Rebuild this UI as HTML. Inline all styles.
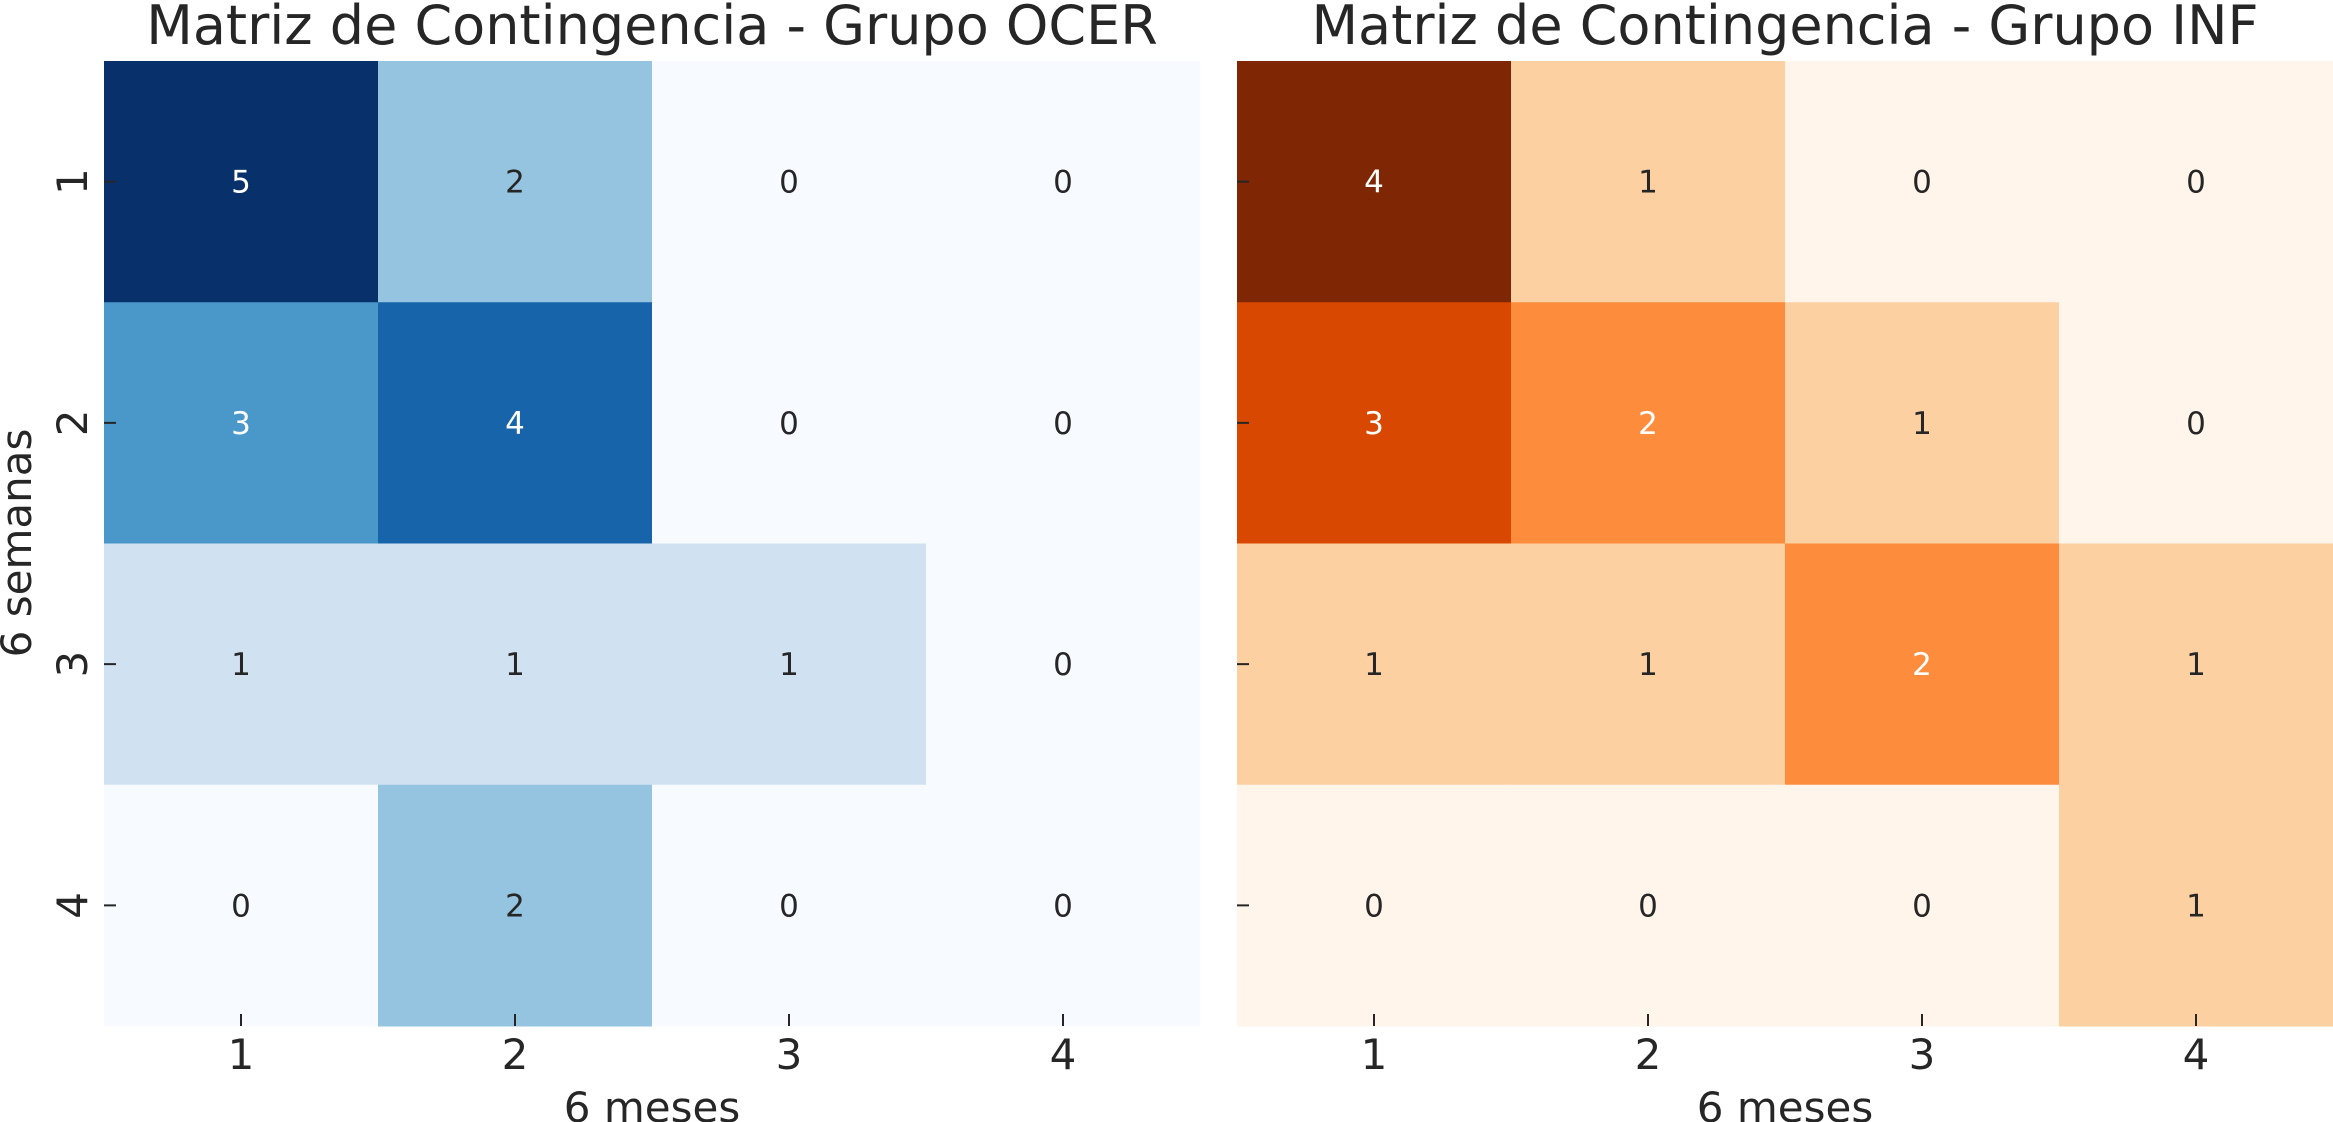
<!DOCTYPE html>
<html><head><meta charset="utf-8">
<style>
html,body{margin:0;padding:0;background:#fff;}
svg{display:block;font-family:"DejaVu Sans","Liberation Sans",sans-serif;}
</style></head>
<body>
<svg id="chart" width="2333" height="1122" viewBox="0 0 2333 1122" xmlns="http://www.w3.org/2000/svg"></svg>
<script>
const rowLabels = ["1","2","3","4"];
const colLabels = ["1","2","3","4"];
const ocerValues = [[5,2,0,0],[3,4,0,0],[1,1,1,0],[0,2,0,0]];
const infValues = [[4,1,0,0],[3,2,1,0],[1,1,2,1],[0,0,0,1]];
const blues = ["#f7fbff","#deebf7","#c6dbef","#9ecae1","#6baed6","#4292c6","#2171b5","#08519c","#08306b"];
const oranges = ["#fff5eb","#fee6ce","#fdd0a2","#fdae6b","#fd8d3c","#f16913","#d94801","#a63603","#7f2704"];

const svgEl = document.getElementById('chart');
const NS = "http://www.w3.org/2000/svg";
function mk(tag, attrs){ const e=document.createElementNS(NS,tag); for(const k in attrs) e.setAttribute(k,attrs[k]); svgEl.appendChild(e); return e; }
function hex(h){return [1,3,5].map(i=>parseInt(h.substr(i,2),16));}
function cmap(stops,f){ const p=f*(stops.length-1); const i=Math.min(Math.floor(p),stops.length-2); const t=p-i;
  const a=hex(stops[i]), b=hex(stops[i+1]); return a.map((v,k)=>Math.round(v+(b[k]-v)*t)); }
function lum(c){ const l=c.map(v=>{v/=255;return v<=0.03928?v/12.92:Math.pow((v+0.055)/1.055,2.4);}); return 0.2126*l[0]+0.7152*l[1]+0.0722*l[2]; }

const plotTop=61, plotH=965, plotW=1096;
function panel(x0, values, stops, title, showY, key){
  const xS = i => x0 + i*plotW/colLabels.length;
  const yS = j => plotTop + j*plotH/rowLabels.length;
  const cw = plotW/colLabels.length, ch = plotH/rowLabels.length;
  let max=0; values.forEach(r=>r.forEach(v=>{if(v>max)max=v;}));
  values.forEach((row,j)=>row.forEach((v,i)=>{
    const c=cmap(stops, max?v/max:0);
    const r=mk('rect',{x:xS(i),y:yS(j),width:cw+0.5,height:ch+0.5,fill:`rgb(${c})`});
    
    
    const t=mk('text',{x:xS(i)+cw/2,y:yS(j)+ch/2+11,'text-anchor':'middle','font-size':31,fill:lum(c)>0.408?'#262626':'#ffffff'});
    t.textContent=v;
    
    
  }));
  const tt=mk('text',{x:x0+plotW/2,y:44,'text-anchor':'middle','font-size':54,fill:'#262626'});
  tt.textContent=title;
  
  
  colLabels.forEach((l,i)=>{
    const cx=xS(i)+cw/2;
    const tk=mk('line',{x1:cx,x2:cx,y1:1014,y2:1026,stroke:'#262626','stroke-width':2});
    
    
    const tl=mk('text',{x:cx,y:1069,'text-anchor':'middle','font-size':42,fill:'#262626'});
    tl.textContent=l;
    
    
  });
  const xl=mk('text',{x:x0+plotW/2,y:1122,'text-anchor':'middle','font-size':42,fill:'#262626'});
  xl.textContent='6 meses';
  
  
  rowLabels.forEach((l,j)=>{
    const cy=yS(j)+ch/2;
    const tk=mk('line',{x1:x0,x2:x0+12,y1:cy,y2:cy,stroke:'#262626','stroke-width':2});
    
    
    if(showY){
      const tl=mk('text',{x:0,y:0,'text-anchor':'middle','font-size':42,fill:'#262626',transform:`translate(87,${cy}) rotate(-90)`});
      tl.textContent=l;
      
      
    }
  });
  if(showY){
    const yl=mk('text',{x:0,y:0,'text-anchor':'middle','font-size':42,fill:'#262626',transform:`translate(31,543) rotate(-90)`});
    yl.textContent='6 semanas';
    
    
  }
}
panel(104, ocerValues, blues, 'Matriz de Contingencia - Grupo OCER', true, 'ocer');
panel(1237, infValues, oranges, 'Matriz de Contingencia - Grupo INF', false, 'inf');
</script>
</body></html>
